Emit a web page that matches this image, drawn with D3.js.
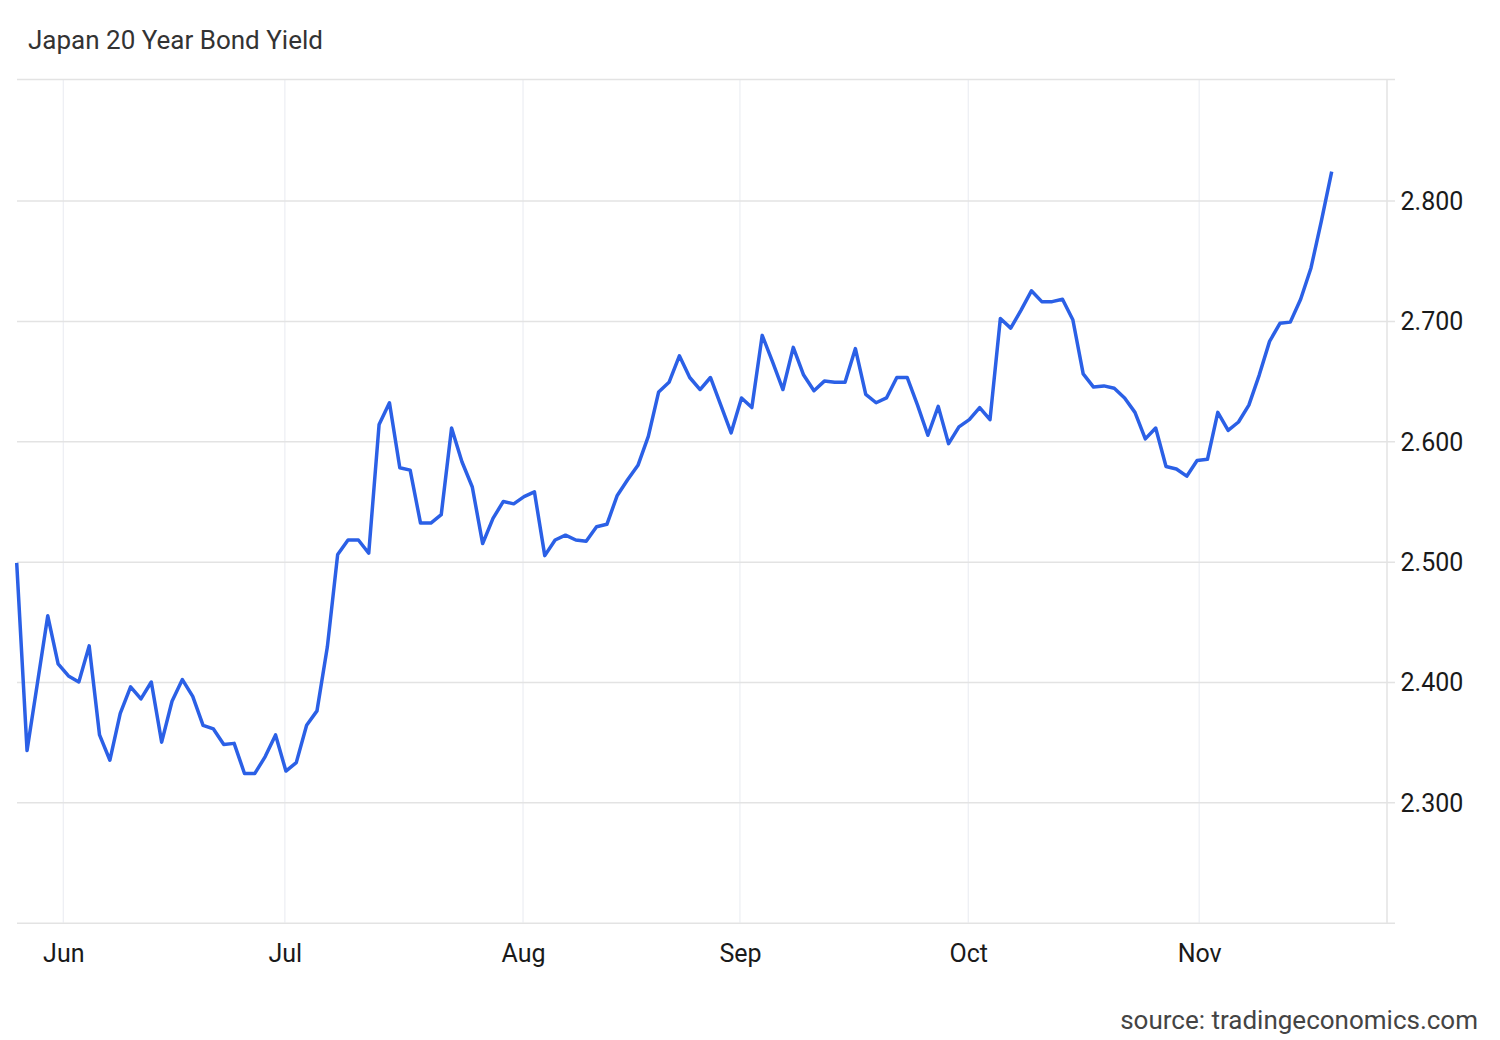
<!DOCTYPE html>
<html>
<head>
<meta charset="utf-8">
<script src="https://cdn.jsdelivr.net/npm/d3@7"></script>
<style>
  html, body { margin: 0; padding: 0; background: #fff; }
  svg { display: block; font-family: Roboto, "Noto Sans", sans-serif; }
</style>
</head>
<body>
<div id="chart"></div>
<script>
// Japan 20Y yield, one value per trading day (late May -> mid Nov)
const yields = [
  2.499, 2.343, 2.399, 2.455, 2.415, 2.405, 2.400, 2.430, 2.356, 2.335,
  2.374, 2.396, 2.386, 2.400, 2.350, 2.384, 2.402, 2.388, 2.364, 2.361,
  2.348, 2.349, 2.324, 2.324, 2.338, 2.356, 2.326, 2.333, 2.364, 2.376,
  2.429, 2.506, 2.518, 2.518, 2.507, 2.614, 2.632, 2.578, 2.576, 2.532,
  2.532, 2.539, 2.611, 2.583, 2.562, 2.515, 2.536, 2.550, 2.548, 2.554,
  2.558, 2.505, 2.518, 2.522, 2.518, 2.517, 2.529, 2.531, 2.555, 2.568,
  2.580, 2.604, 2.641, 2.649, 2.671, 2.653, 2.643, 2.653, 2.630, 2.607,
  2.636, 2.628, 2.688, 2.666, 2.643, 2.678, 2.655, 2.642, 2.650, 2.649,
  2.649, 2.677, 2.639, 2.632, 2.636, 2.653, 2.653, 2.630, 2.605, 2.629,
  2.598, 2.612, 2.618, 2.628, 2.618, 2.702, 2.694, 2.709, 2.725, 2.716,
  2.716, 2.718, 2.701, 2.656, 2.645, 2.646, 2.644, 2.636, 2.624, 2.602,
  2.611, 2.579, 2.577, 2.571, 2.584, 2.585, 2.624, 2.609, 2.616, 2.630,
  2.655, 2.683, 2.698, 2.699, 2.718, 2.744, 2.783, 2.824
];

// month starts, as positions on the trading-day index
const monthLabels = ["Jun", "Jul", "Aug", "Sep", "Oct", "Nov"];
const monthPos = [4.5, 25.9, 48.9, 69.85, 91.9, 114.2];

const yTicks = [2.3, 2.4, 2.5, 2.6, 2.7, 2.8];

const W = 1500, H = 1040;
const plot = { left: 17, right: 1387, top: 79, bottom: 922.7 };

const svg = d3.select("#chart").append("svg")
  .attr("width", W)
  .attr("height", H);

const x = d3.scaleLinear()
  .domain([0, yields.length - 1])
  .range([16.7, 1331.7]);

const y = d3.scaleLinear()
  .domain([2.2, 2.901])
  .range([plot.bottom, plot.top]);

// vertical month grid
svg.append("g")
  .selectAll("line")
  .data(monthPos)
  .join("line")
  .attr("x1", d => x(d)).attr("x2", d => x(d))
  .attr("y1", plot.top).attr("y2", plot.bottom)
  .attr("stroke", "#eceef3")
  .attr("stroke-width", 1.2);

// horizontal grid incl. top and bottom frame, with stub past right edge
const yAxis = d3.axisRight(y)
  .tickValues([2.2].concat(yTicks, [2.901]))
  .tickSize(-(plot.right + 8 - plot.left))
  .tickSizeOuter(0)
  .tickFormat(d => yTicks.includes(d) ? d3.format(".3f")(d) : "");

svg.append("g")
  .attr("transform", `translate(${plot.right + 8},0)`)
  .call(yAxis)
  .call(g => g.select(".domain").remove())
  .call(g => g.selectAll(".tick line")
    .attr("stroke", "#e3e3e3")
    .attr("stroke-width", 1.5))
  .call(g => g.selectAll(".tick text")
    .attr("x", 5.5)
    .attr("dy", "0.35em")
    .attr("fill", "#1a1a1a")
    .attr("font-size", 25)
    .attr("font-family", "Roboto, sans-serif"));

// right frame line
svg.append("line")
  .attr("x1", plot.right).attr("x2", plot.right)
  .attr("y1", plot.top).attr("y2", plot.bottom + 1)
  .attr("stroke", "#e3e3e3")
  .attr("stroke-width", 1.5);

// month labels
const xAxis = d3.axisBottom(x)
  .tickValues(monthPos)
  .tickSize(0)
  .tickFormat((d, i) => monthLabels[i]);

svg.append("g")
  .attr("transform", `translate(0,${plot.bottom})`)
  .call(xAxis)
  .call(g => g.select(".domain").remove())
  .call(g => g.selectAll(".tick text")
    .attr("y", 39)
    .attr("dy", 0)
    .attr("fill", "#1a1a1a")
    .attr("font-size", 25)
    .attr("font-family", "Roboto, sans-serif"));

// the series
const line = d3.line()
  .x((d, i) => x(i))
  .y(d => y(d));

svg.append("path")
  .datum(yields)
  .attr("fill", "none")
  .attr("stroke", "#2b60e6")
  .attr("stroke-width", 3.5)
  .attr("stroke-linejoin", "round")
  .attr("d", line);

// title + source
svg.append("text")
  .attr("x", 28).attr("y", 49)
  .attr("font-size", 26)
  .attr("fill", "#333")
  .text("Japan 20 Year Bond Yield");

svg.append("text")
  .attr("x", 1478).attr("y", 1029)
  .attr("text-anchor", "end")
  .attr("font-size", 26)
  .attr("fill", "#444")
  .text("source: tradingeconomics.com");
</script>
</body>
</html>
